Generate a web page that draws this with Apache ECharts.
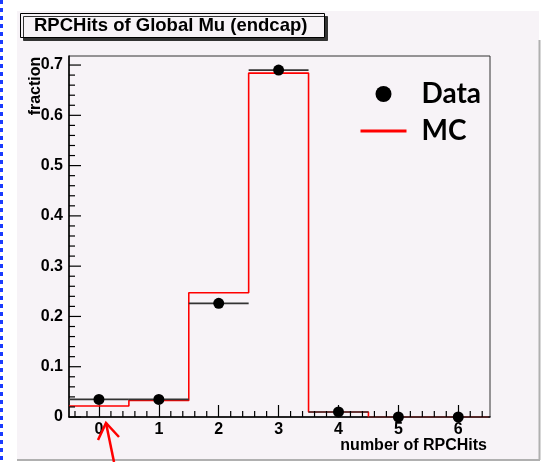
<!DOCTYPE html>
<html><head><meta charset="utf-8">
<script src="https://cdn.jsdelivr.net/npm/echarts@6/dist/echarts.min.js"></script>
<style>html,body{margin:0;padding:0;background:#fff}#c{width:548px;height:462px}</style>
</head><body><div id="c"></div>
<script>
// ---- data ----
const binCenters   = [0, 1, 2, 3, 4, 5, 6];
const dataValues   = [0.035, 0.035, 0.226, 0.690, 0.010, 0.0, 0.0];
const mcValues     = [0.022, 0.033, 0.247, 0.684, 0.010, 0.0, 0.0];
const binWidth     = 1;
const xTickLabels  = [0, 1, 2, 3, 4, 5, 6];
const xMinorTicks  = [-0.4, -0.2, 0.2, 0.4, 0.6, 0.8, 1.2, 1.4, 1.6, 1.8, 2.2, 2.4, 2.6, 2.8,
                      3.2, 3.4, 3.6, 3.8, 4.2, 4.4, 4.6, 4.8, 5.2, 5.4, 5.6, 5.8, 6.2, 6.4];
const yTickLabels  = [0, 0.1, 0.2, 0.3, 0.4, 0.5, 0.6, 0.7];
const yMinorTicks  = [0.02, 0.04, 0.06, 0.08, 0.12, 0.14, 0.16, 0.18, 0.22, 0.24, 0.26, 0.28,
                      0.32, 0.34, 0.36, 0.38, 0.42, 0.44, 0.46, 0.48, 0.52, 0.54, 0.56, 0.58,
                      0.62, 0.64, 0.66, 0.68];

const PANEL = '#f7f3f7';
const labelFont = {fontFamily: 'Liberation Sans', fontWeight: 'bold', fontSize: 16, color: '#000'};

// histogram outline for MC built from bins
const mcLine = [];
binCenters.forEach((c, i) => {
  mcLine.push([c - binWidth / 2, mcValues[i]]);
  mcLine.push([c + binWidth / 2, mcValues[i]]);
});
const dataPts = binCenters.map((c, i) => [c, dataValues[i]]);

const baseGraphic = [
  {type: 'rect', z: -10, silent: true, shape: {x: 17, y: 11, width: 522, height: 448}, style: {fill: PANEL}},
  {type: 'line', z: -9, silent: true, shape: {x1: 539.5, y1: 40, x2: 539.5, y2: 460}, style: {stroke: '#b0b0b0', lineWidth: 2}},
  {type: 'line', z: -9, silent: true, shape: {x1: 17, y1: 460, x2: 540, y2: 460}, style: {stroke: '#b0b0b0', lineWidth: 2}},
  {type: 'line', z: -9, silent: true, shape: {x1: 1.5, y1: 0, x2: 1.5, y2: 462}, style: {stroke: '#1a3cff', lineWidth: 3, lineDash: [4, 4]}},
  {type: 'text', z: 10, x: 36, y: 86, rotation: Math.PI / 2,
    style: {text: 'fraction', fontFamily: 'Liberation Sans', fontWeight: 'bold', fontSize: 16, fill: '#000', align: 'center', verticalAlign: 'middle'}},
  {type: 'polyline', z: 20, silent: true, shape: {points: [[114, 462], [106, 423]]}, style: {stroke: '#ff0000', lineWidth: 2.5, fill: null}},
  {type: 'polyline', z: 20, silent: true, shape: {points: [[98, 440], [106, 423], [119, 437]]}, style: {stroke: '#ff0000', lineWidth: 2.5, fill: null}}
];

const chart = echarts.init(document.getElementById('c'), null, {renderer: 'canvas'});
chart.setOption({
  animation: false,
  backgroundColor: '#fff',
  title: {
    text: 'RPCHits of Global Mu (endcap)',
    left: 20, top: 13,
    padding: [3, 17, 3, 14],
    backgroundColor: PANEL,
    borderColor: '#000', borderWidth: 1,
    shadowColor: '#333', shadowOffsetX: 3, shadowOffsetY: 3, shadowBlur: 0,
    textStyle: {fontFamily: 'Liberation Sans', fontWeight: 'bold', fontSize: 18.5, color: '#000', lineHeight: 19}
  },
  legend: {
    orient: 'vertical', left: 354, top: 74,
    itemWidth: 46, itemHeight: 16, itemGap: 7,
    selectedMode: false,
    textStyle: {fontFamily: 'Lato', fontWeight: 'bold', fontSize: 28, color: '#000', lineHeight: 30, padding: [0, 0, 0, 10]},
    data: [
      {name: 'Data', icon: 'circle', itemStyle: {color: '#000'}},
      {name: 'MC', lineStyle: {width: 3, color: '#ff0000'}, itemStyle: {opacity: 0}}
    ]
  },
  graphic: baseGraphic,
  grid: {
    left: 69, top: 56, right: 58, bottom: 45,
    show: true, backgroundColor: PANEL, borderColor: '#333', borderWidth: 1
  },
  xAxis: {
    type: 'value', min: -0.5, max: 6.53,
    axisLine: {show: true, onZero: false, lineStyle: {color: '#000', width: 1.5}},
    axisTick: {show: true, inside: true, length: 12, customValues: xTickLabels, lineStyle: {color: '#000', width: 1.2}},
    axisLabel: {show: true, customValues: xTickLabels, margin: 5, ...labelFont},
    splitLine: {show: false},
    name: 'number of RPCHits', nameLocation: 'end', nameGap: -3,
    nameTextStyle: {fontFamily: 'Liberation Sans', fontWeight: 'bold', fontSize: 16, color: '#000', align: 'right', verticalAlign: 'top', padding: [21, 0, 0, 0]}
  },
  yAxis: {
    type: 'value', min: 0, max: 0.718, interval: 0.1,
    axisLine: {show: true, onZero: false, lineStyle: {color: '#000', width: 1.5}},
    axisTick: {show: false},
    minorTick: {show: false},
    axisLabel: {show: true, showMaxLabel: false, margin: 6, ...labelFont},
    splitLine: {show: false}
  },
  series: [
    {
      name: 'MC', type: 'line', data: mcLine,
      symbol: 'none', showSymbol: false,
      lineStyle: {color: '#ff0000', width: 1.6},
      itemStyle: {color: '#ff0000'},
      z: 3
    },
    {
      name: 'Data', type: 'custom', data: dataPts,
      itemStyle: {color: '#000'},
      z: 4,
      renderItem: function (params, api) {
        const x = api.value(0), y = api.value(1);
        const p1 = api.coord([x - binWidth / 2, y]);
        const p2 = api.coord([x + binWidth / 2, y]);
        const c = api.coord([x, y]);
        return {
          type: 'group',
          children: [
            {type: 'line', shape: {x1: p1[0], y1: p1[1], x2: p2[0], y2: p2[1]}, style: {stroke: '#333', lineWidth: 1.6}},
            {type: 'circle', shape: {cx: c[0], cy: c[1], r: 5.5}, style: {fill: '#000'}}
          ]
        };
      }
    }
  ]
});

// axis ticks placed through the axes' own scales
const yBase = chart.convertToPixel({yAxisIndex: 0}, 0);
const xBase = chart.convertToPixel({xAxisIndex: 0}, -0.5);
const tickStyle = {stroke: '#000', lineWidth: 1.2};
const xMinorG = xMinorTicks.map(v => {
  const px = chart.convertToPixel({xAxisIndex: 0}, v);
  return {type: 'line', z: 5, silent: true, shape: {x1: px, y1: yBase, x2: px, y2: yBase - 6}, style: tickStyle};
});
const yMajorG = yTickLabels.map(v => {
  const py = chart.convertToPixel({yAxisIndex: 0}, v);
  return {type: 'line', z: 5, silent: true, shape: {x1: xBase, y1: py, x2: xBase + 12, y2: py}, style: tickStyle};
});
const yMinorG = yMinorTicks.map(v => {
  const py = chart.convertToPixel({yAxisIndex: 0}, v);
  return {type: 'line', z: 5, silent: true, shape: {x1: xBase, y1: py, x2: xBase + 6, y2: py}, style: tickStyle};
});
chart.setOption({graphic: baseGraphic.concat(xMinorG, yMajorG, yMinorG)});
</script></body></html>
